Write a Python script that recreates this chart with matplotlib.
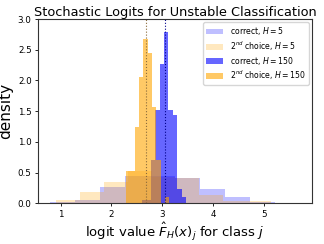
import numpy as np
import matplotlib
matplotlib.use("Agg")
import matplotlib.pyplot as plt

# ---- data ----
# correct class, H = 5
edges_c5 = [0.80, 1.29, 1.78, 2.27, 2.76, 3.25, 3.74, 4.23, 4.72, 5.21, 5.70]
dens_c5 = [0.02, 0.05, 0.27, 0.45, 0.44, 0.41, 0.23, 0.10, 0.02, 0.01]
# 2nd choice, H = 5
edges_s5 = [0.91, 1.38, 1.85, 2.32, 2.79, 3.26, 3.73, 4.20, 4.67, 5.14, 5.61]
dens_s5 = [0.05, 0.18, 0.34, 0.52, 0.43, 0.41, 0.13, 0.03, 0.03, 0.005]
# correct class, H = 150
edges_c150 = [2.60, 2.687, 2.774, 2.861, 2.948, 3.035, 3.122, 3.209, 3.296, 3.383, 3.47]
dens_c150 = [0.05, 0.05, 0.70, 1.52, 2.27, 2.79, 1.52, 1.44, 0.24, 0.10]
# 2nd choice, H = 150
edges_s150 = [2.29, 2.375, 2.46, 2.545, 2.63, 2.715, 2.80, 2.885, 2.97, 3.055, 3.14]
dens_s150 = [0.52, 0.52, 1.24, 2.05, 2.68, 2.44, 1.56, 0.70, 0.0, 0.10]

mean_correct = 3.045
mean_second = 2.675

labels = ["correct, $H=5$", "2$^{nd}$ choice, $H=5$",
          "correct, $H=150$", "2$^{nd}$ choice, $H=150$"]

fig = plt.figure(figsize=(3.24, 2.44), dpi=100)
ax = fig.add_axes([0.117, 0.167, 0.846, 0.755])

def centers(e):
    e = np.asarray(e)
    return (e[:-1] + e[1:]) / 2

ax.hist(centers(edges_c5), bins=edges_c5, weights=dens_c5, color="blue", alpha=0.25, label=labels[0])
ax.hist(centers(edges_s5), bins=edges_s5, weights=dens_s5, color="orange", alpha=0.25, label=labels[1])
ax.hist(centers(edges_c150), bins=edges_c150, weights=dens_c150, color="blue", alpha=0.6, label=labels[2])
ax.hist(centers(edges_s150), bins=edges_s150, weights=dens_s150, color="orange", alpha=0.6, label=labels[3])

ax.axvline(mean_second, color="#8a6a3a", linestyle=":", linewidth=0.8)
ax.axvline(mean_correct, color="darkblue", linestyle=":", linewidth=0.8)

ax.set_ylim(0, 3.0)
ax.set_xticks([1, 2, 3, 4, 5])
ax.set_yticks([0.0, 0.5, 1.0, 1.5, 2.0, 2.5, 3.0])
ax.tick_params(labelsize=6.3, length=2.5, width=0.6, pad=2)
for s in ax.spines.values():
    s.set_linewidth(0.8)
    s.set_color("#333333")

ax.set_title("Stochastic Logits for Unstable Classification", fontsize=9.3, pad=1.5)
ax.set_xlabel(r"logit value $\hat{F}_H(x)_j$ for class $j$", fontsize=9.5, labelpad=2)
ax.set_ylabel("density", fontsize=11, labelpad=3)
ax.legend(loc="upper right", fontsize=5.6, framealpha=0.8, borderpad=0.4,
          handlelength=2.2, labelspacing=0.25, borderaxespad=0.4)

fig.savefig("out.png", dpi=100)
